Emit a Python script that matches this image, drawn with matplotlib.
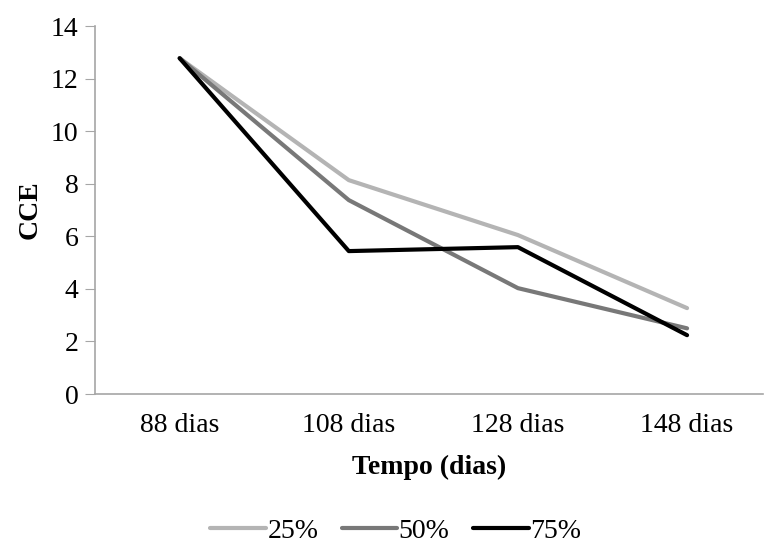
import matplotlib
matplotlib.use('Agg')
import matplotlib.pyplot as plt

plt.rcParams['font.family'] = ['Liberation Serif', 'DejaVu Serif']

# dados
categorias = ['88 dias', '108 dias', '128 dias', '148 dias']
cce_25 = [12.78, 8.14, 6.05, 3.27]
cce_50 = [12.78, 7.38, 4.03, 2.50]
cce_75 = [12.78, 5.44, 5.59, 2.24]

fig = plt.figure(figsize=(7.67, 5.45), dpi=100)
ax = fig.add_axes([0.124, 0.277, 0.871, 0.675])

x = range(len(categorias))
ax.plot(x, cce_25, color='#b4b4b4', lw=3, label='25%', solid_capstyle='round')
ax.plot(x, cce_50, color='#787878', lw=3, label='50%', solid_capstyle='round')
ax.plot(x, cce_75, color='#000000', lw=3, label='75%', solid_capstyle='round')

ax.set_xlim(-0.5, 3.45)
ax.set_ylim(0, 14)
ax.set_yticks(range(0, 15, 2))
ax.set_xticks(list(x))
ax.set_xticklabels(categorias)

for s in ['top', 'right']:
    ax.spines[s].set_visible(False)
for s in ['left', 'bottom']:
    ax.spines[s].set_color('#a6a6a6')
    ax.spines[s].set_linewidth(1.2)

ax.tick_params(axis='y', direction='out', length=7, color='#a6a6a6', labelsize=20, pad=5)
ax.tick_params(axis='x', length=0, labelsize=20, pad=14)

ax.set_ylabel('CCE', fontsize=20, fontweight='bold', labelpad=6)
ax.set_xlabel('Tempo (dias)', fontsize=20, fontweight='bold', labelpad=12)

fig.legend(loc='center', bbox_to_anchor=(0.516, 0.025), ncol=3, frameon=False,
           fontsize=20, handlelength=2.0, handletextpad=0.05, columnspacing=0.85)

fig.savefig('out.png', dpi=100)
